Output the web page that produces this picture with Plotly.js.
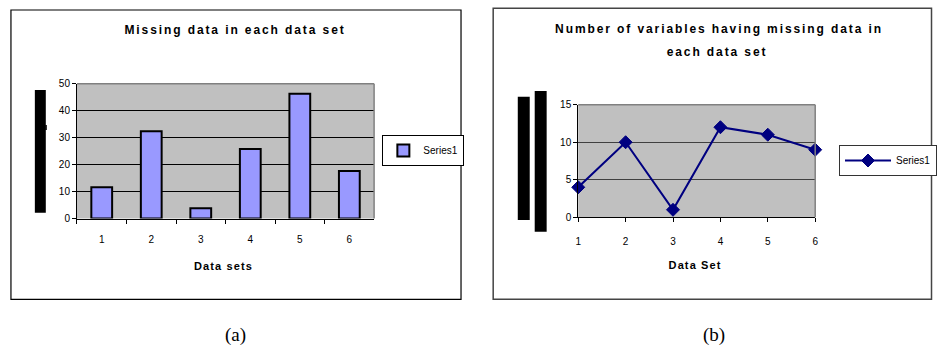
<!DOCTYPE html>
<html>
<head>
<meta charset="utf-8">
<script src="https://cdn.plot.ly/plotly-3.0.1.min.js"></script>
<style>
  html, body { margin: 0; padding: 0; background: #fff; }
  #chart { width: 937px; height: 345px; }
  /* spaced-out bold chart titles */
  g.annotation[data-index="0"] text,
  g.annotation[data-index="2"] text,
  g.annotation[data-index="3"] text { letter-spacing: 1.9px; }
  g.annotation[data-index="1"] text,
  g.annotation[data-index="4"] text { letter-spacing: 1.1px; }
</style>
</head>
<body>
<div id="chart"></div>
<script>
// (a) missing data per data set
const barCategories = ['1', '2', '3', '4', '5', '6'];
const missingCounts = [11.6, 32.4, 3.8, 25.8, 46.3, 17.6];

// (b) number of variables with missing data per data set
const dataSetIds = [1, 2, 3, 4, 5, 6];
const variablesMissing = [4, 10, 1, 12, 11, 9];

const seriesName = 'Series1';

const W = 937, H = 345;
const px = x => x / W;
const py = y => 1 - y / H;

const sans = 'Liberation Sans, Arial, sans-serif';
const serif = 'Liberation Serif, Times New Roman, serif';

const traces = [
  {
    type: 'bar',
    x: barCategories,
    y: missingCounts,
    name: seriesName,
    width: 0.42,
    marker: { color: '#9999ff', line: { color: '#000000', width: 2 } },
    xaxis: 'x', yaxis: 'y',
    legend: 'legend'
  },
  {
    type: 'scatter',
    mode: 'lines+markers',
    x: dataSetIds,
    y: variablesMissing,
    name: seriesName,
    line: { color: '#000080', width: 2 },
    marker: { symbol: 'diamond', size: 10, color: '#000080', line: { color: '#000080', width: 1 } },
    cliponaxis: false,
    xaxis: 'x2', yaxis: 'y2',
    legend: 'legend2'
  }
];

const axisFont = { family: sans, size: 10, color: '#000' };

const layout = {
  width: W, height: H,
  margin: { l: 0, r: 0, t: 0, b: 0 },
  paper_bgcolor: '#ffffff',
  plot_bgcolor: '#c0c0c0',
  showlegend: true,
  xaxis: {
    domain: [px(77.3), px(375.7)],
    anchor: 'y',
    type: 'category',
    tickson: 'boundaries',
    ticks: 'outside', ticklen: 4, tickcolor: '#000', tickwidth: 1,
    showline: true, linecolor: '#000', linewidth: 1,
    showgrid: false, zeroline: false,
    tickfont: axisFont,
    ticklabelstandoff: 11
  },
  yaxis: {
    domain: [py(218.5), py(83.7)],
    anchor: 'x',
    range: [0, 50], dtick: 10,
    ticks: 'outside', ticklen: 4, tickcolor: '#000', tickwidth: 1,
    showline: true, linecolor: '#000', linewidth: 1,
    showgrid: true, gridcolor: '#000000', gridwidth: 1,
    zeroline: false,
    tickfont: axisFont
  },
  xaxis2: {
    domain: [px(580.7), px(818.7)],
    anchor: 'y2',
    range: [1, 6], tickvals: dataSetIds,
    ticks: 'outside', ticklen: 4, tickcolor: '#000', tickwidth: 1,
    showline: true, linecolor: '#000', linewidth: 1,
    showgrid: false, zeroline: false,
    tickfont: axisFont,
    ticklabelstandoff: 11
  },
  yaxis2: {
    domain: [py(217.3), py(104.7)],
    anchor: 'x2',
    range: [0, 15], dtick: 5,
    ticks: 'outside', ticklen: 4, tickcolor: '#000', tickwidth: 1,
    showline: true, linecolor: '#000', linewidth: 1,
    showgrid: true, gridcolor: '#404040', gridwidth: 1,
    zeroline: false,
    tickfont: axisFont
  },
  legend: {
    x: px(384), y: py(135), xanchor: 'left', yanchor: 'top',
    bgcolor: '#ffffff', bordercolor: '#000000', borderwidth: 1,
    itemwidth: 30,
    font: { family: sans, size: 10, color: '#000' }
  },
  legend2: {
    x: px(843), y: py(145), xanchor: 'left', yanchor: 'top',
    bgcolor: '#ffffff', bordercolor: '#333333', borderwidth: 1,
    itemwidth: 46,
    font: { family: sans, size: 10, color: '#000' }
  },
  annotations: [
    { text: 'Missing data in each data set', x: px(236), y: py(30), xref: 'paper', yref: 'paper',
      showarrow: false, xanchor: 'center', yanchor: 'middle',
      font: { family: sans, size: 12, weight: 700, color: '#000' } },
    { text: 'Data sets', x: px(224), y: py(266), xref: 'paper', yref: 'paper',
      showarrow: false, xanchor: 'center', yanchor: 'middle',
      font: { family: sans, size: 11, weight: 700, color: '#000' } },
    { text: 'Number of variables having missing data in', x: px(722), y: py(29), xref: 'paper', yref: 'paper',
      showarrow: false, xanchor: 'center', yanchor: 'middle',
      font: { family: sans, size: 12, weight: 700, color: '#000' } },
    { text: 'each data set', x: px(720.5), y: py(52), xref: 'paper', yref: 'paper',
      showarrow: false, xanchor: 'center', yanchor: 'middle',
      font: { family: sans, size: 12, weight: 700, color: '#000' } },
    { text: 'Data Set', x: px(698), y: py(265), xref: 'paper', yref: 'paper',
      showarrow: false, xanchor: 'center', yanchor: 'middle',
      font: { family: sans, size: 11, weight: 700, color: '#000' } },
    { text: '(a)', x: px(236.5), y: py(335), xref: 'paper', yref: 'paper',
      showarrow: false, xanchor: 'center', yanchor: 'middle',
      font: { family: serif, size: 19, color: '#000' } },
    { text: '(b)', x: px(717.5), y: py(335), xref: 'paper', yref: 'paper',
      showarrow: false, xanchor: 'center', yanchor: 'middle',
      font: { family: serif, size: 19, color: '#000' } }
  ],
  shapes: [
    // chart frames
    { type: 'rect', xref: 'paper', yref: 'paper', x0: px(11), x1: px(463), y0: py(299.3), y1: py(10),
      line: { color: '#000000', width: 1.2 }, fillcolor: 'rgba(0,0,0,0)' },
    { type: 'rect', xref: 'paper', yref: 'paper', x0: px(495.3), x1: px(935.5), y0: py(299.3), y1: py(8.3),
      line: { color: '#444444', width: 1.5 }, fillcolor: 'rgba(0,0,0,0)' },
    // plot-area border (top and right)
    { type: 'line', xref: 'x domain', yref: 'y domain', x0: 0, x1: 1, y0: 1, y1: 1,
      line: { color: '#808080', width: 1.5 } },
    { type: 'line', xref: 'x domain', yref: 'y domain', x0: 1, x1: 1, y0: 0, y1: 1,
      line: { color: '#808080', width: 1.5 } },
    { type: 'line', xref: 'x2 domain', yref: 'y2 domain', x0: 0, x1: 1, y0: 1, y1: 1,
      line: { color: '#808080', width: 1.5 } },
    { type: 'line', xref: 'x2 domain', yref: 'y2 domain', x0: 1, x1: 1, y0: 0, y1: 1,
      line: { color: '#808080', width: 1.5 } },
    // blacked-out y-axis titles
    { type: 'rect', xref: 'paper', yref: 'paper', x0: px(35), x1: px(46), y0: py(212.7), y1: py(90),
      line: { width: 0 }, fillcolor: '#000000' },
    { type: 'rect', xref: 'paper', yref: 'paper', x0: px(45.5), x1: px(47), y0: py(130), y1: py(125),
      line: { width: 0 }, fillcolor: '#000000' },
    { type: 'rect', xref: 'paper', yref: 'paper', x0: px(520), x1: px(532), y0: py(220), y1: py(96.7),
      line: { width: 0 }, fillcolor: '#000000' },
    { type: 'rect', xref: 'paper', yref: 'paper', x0: px(537), x1: px(549), y0: py(231.7), y1: py(91),
      line: { width: 0 }, fillcolor: '#000000' }
  ]
};

Plotly.newPlot('chart', traces, layout, { staticPlot: true, displayModeBar: false });
</script>
</body>
</html>
